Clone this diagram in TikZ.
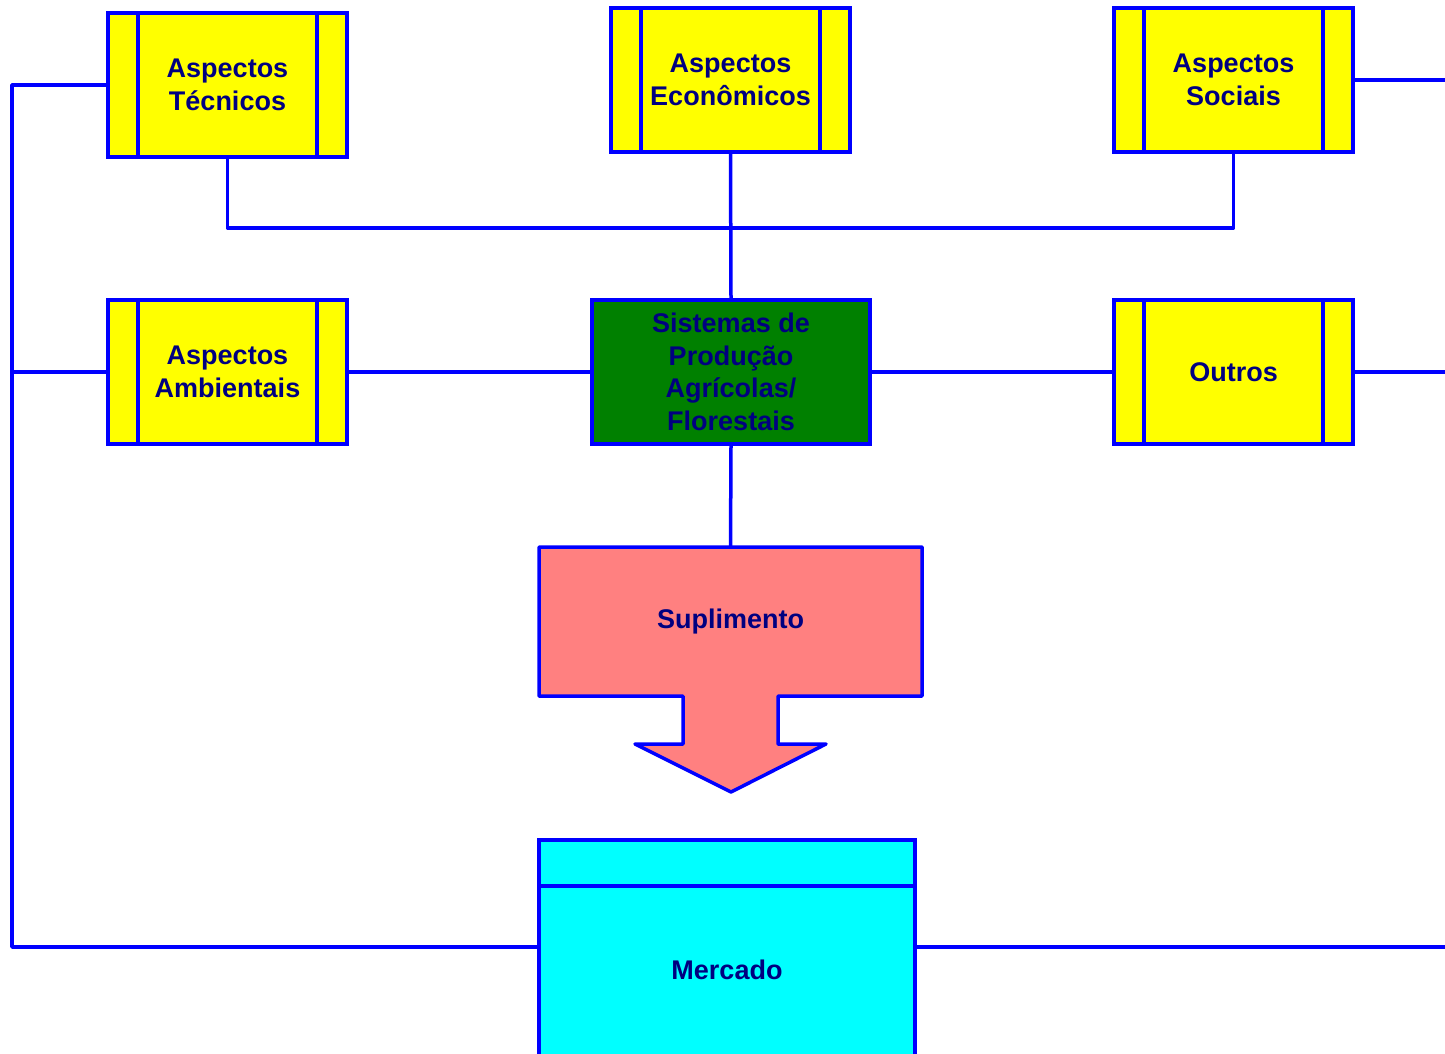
\documentclass[tikz,border=0pt]{standalone}
\usepackage{fontspec}
\setmainfont{Liberation Sans}
\definecolor{ln}{RGB}{0,0,255}
\definecolor{tx}{RGB}{0,0,128}
\definecolor{yel}{RGB}{255,255,0}
\definecolor{grn}{RGB}{0,128,0}
\definecolor{pnk}{RGB}{255,128,128}
\definecolor{cyn}{RGB}{0,255,255}
\begin{document}
\begin{tikzpicture}[x=1pt,y=-1pt,
  conn/.style={draw=ln,line width=3.5pt},
  lbl/.style={font=\fontsize{27}{32.5}\selectfont\bfseries,text=tx,align=center,inner sep=0pt},
  ybox/.style={lbl,rectangle,draw=ln,line width=3.5pt,fill=yel,minimum width=239pt,minimum height=144pt,
    path picture={
      \draw[ln,line width=3.5pt] ([xshift=30pt]path picture bounding box.north west) -- ([xshift=30pt]path picture bounding box.south west);
      \draw[ln,line width=3.5pt] ([xshift=-30pt]path picture bounding box.north east) -- ([xshift=-30pt]path picture bounding box.south east);
    }},
]
\useasboundingbox (0,0) rectangle (1445,1053);
\fill[white] (0,0) rectangle (1445,1053);

\node[ybox] (tec) at (227.5,85) {Aspectos\\Técnicos};
\node[ybox] (eco) at (730.5,80) {Aspectos\\Econômicos};
\node[ybox] (soc) at (1233.5,80) {Aspectos\\Sociais};
\node[ybox] (amb) at (227.5,372) {Aspectos\\Ambientais};
\node[ybox] (out) at (1233.5,372) {Outros};
\node[lbl,rectangle,draw=ln,line width=3.5pt,fill=grn,minimum width=278pt,minimum height=144pt] (sis) at (731,372) {Sistemas de\\Produção\\Agrícolas/\\Florestais};

% Suplimento arrow
\draw[ln,line width=3.5pt,fill=pnk,line join=round]
  (539,547) -- (922,547) -- (922,696) -- (778,696) -- (778,744) -- (826,744)
  -- (731,792) -- (635,744) -- (683,744) -- (683,696) -- (539,696) -- cycle;
\node[lbl,minimum width=383pt,minimum height=149pt] (sup) at (730.5,621.5) {Suplimento};

% Mercado
\node[lbl,rectangle,draw=ln,line width=3.5pt,fill=cyn,minimum width=376pt,minimum height=260pt] (mer) at (727,970) {Mercado};
\draw[conn] (mer.north west |- 0,886) -- (mer.north east |- 0,886);

\coordinate (lx) at (12,0);
\coordinate (rx) at (1445,0);
\coordinate (hy) at (0,228);
\coordinate (my) at (0,947);

% connectors
\draw[conn,line join=round] (tec.west) -- (tec.west -| lx) -- (lx |- my) -- (mer.west |- my);
\draw[conn] (amb.west) -- (amb.west -| lx);
\draw[conn,line join=round] (tec.south) -- (tec.south |- hy) -- (soc.south |- hy) -- (soc.south);
\draw[conn] (eco.south) -- (sis.north);
\draw[conn] (amb.east) -- (sis.west);
\draw[conn] (sis.east) -- (out.west);
\draw[conn] (out.east) -- (out.east -| rx);
\draw[conn] (soc.east) -- (soc.east -| rx);
\draw[conn] (mer.east |- my) -- (rx |- my);
\draw[conn] (sis.south) -- (sup.north);
\end{tikzpicture}
\end{document}
